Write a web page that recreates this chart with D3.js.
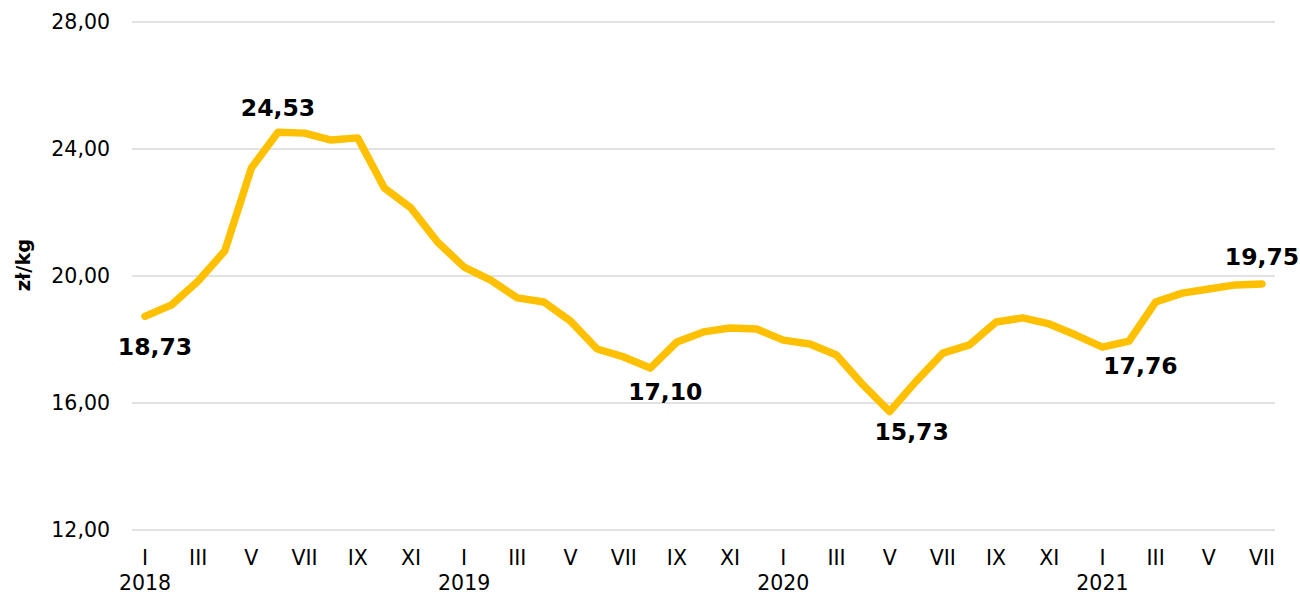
<!DOCTYPE html>
<html><head><meta charset="utf-8">
<script src="https://cdn.jsdelivr.net/npm/d3@7"></script>
<style>body{margin:0;background:#fff}svg{display:block}text{font-family:"DejaVu Sans",Verdana,sans-serif}</style>
</head><body><svg id="c" width="1300" height="594"></svg>
<script>
const months = ["I","II","III","IV","V","VI","VII","VIII","IX","X","XI","XII"];
const years = [2018, 2019, 2020, 2021];
const values = [18.73,19.09,19.84,20.79,23.40,24.53,24.50,24.28,24.35,22.77,22.14,21.07,
  20.28,19.87,19.31,19.18,18.58,17.70,17.45,17.10,17.92,18.24,18.36,18.33,
  17.98,17.86,17.51,16.57,15.73,16.69,17.57,17.83,18.55,18.68,18.49,18.14,
  17.76,17.95,19.18,19.46,19.59,19.72,19.75];
const yTicks = [12,16,20,24,28];
const annotated = [0,5,19,28,36,42];

const data = values.map((v,i)=>({i, v, m: months[i%12], y: years[Math.floor(i/12)]}));
const svg = d3.select("#c");
const x = d3.scaleLinear().domain([0, values.length-1]).range([145, 1262]);
const y = d3.scaleLinear().domain([12, 28]).range([530, 22]);
const fmt = v => v.toFixed(2).replace(".", ",");

svg.append("g").selectAll("line").data(yTicks).join("line")
  .attr("x1",132).attr("x2",1275).attr("y1",d=>y(d)).attr("y2",d=>y(d))
  .attr("stroke","#d9d9d9").attr("stroke-width",1.3);
svg.append("g").selectAll("text").data(yTicks).join("text")
  .attr("x",110).attr("y",d=>y(d)).attr("dy","0.36em").attr("text-anchor","end")
  .attr("font-size",20.5).attr("fill","#000").text(d=>fmt(d));
svg.append("g").selectAll("text").data(data.filter(d=>d.i%2===0)).join("text")
  .attr("x",d=>x(d.i)).attr("y",565).attr("text-anchor","middle")
  .attr("font-size",20.5).attr("fill","#000").text(d=>d.m);
svg.append("g").selectAll("text").data(data.filter(d=>d.i%12===0)).join("text")
  .attr("x",d=>x(d.i)).attr("y",590).attr("text-anchor","middle")
  .attr("font-size",20.5).attr("fill","#000").text(d=>d.y);
svg.append("text").attr("transform","translate(30,265) rotate(-90)")
  .attr("text-anchor","middle").attr("font-size",19.5).attr("font-weight","bold").text("zł/kg");
svg.append("path").datum(data)
  .attr("d", d3.line().x(d=>x(d.i)).y(d=>y(d.v)))
  .attr("fill","none").attr("stroke","#FFC000").attr("stroke-width",7.5)
  .attr("stroke-linejoin","round").attr("stroke-linecap","round");
const offs = {0:[10,30],5:[0,-25],19:[15,23],28:[22,20],36:[38,18],42:[0,-27]};
svg.append("g").selectAll("text").data(annotated).join("text")
  .attr("x",i=>x(i)+offs[i][0]).attr("y",i=>y(values[i])+offs[i][1]).attr("dy","0.36em")
  .attr("text-anchor","middle").attr("font-size",23.5).attr("font-weight","bold").attr("fill","#000")
  .text(i=>fmt(values[i]));
</script></body></html>
